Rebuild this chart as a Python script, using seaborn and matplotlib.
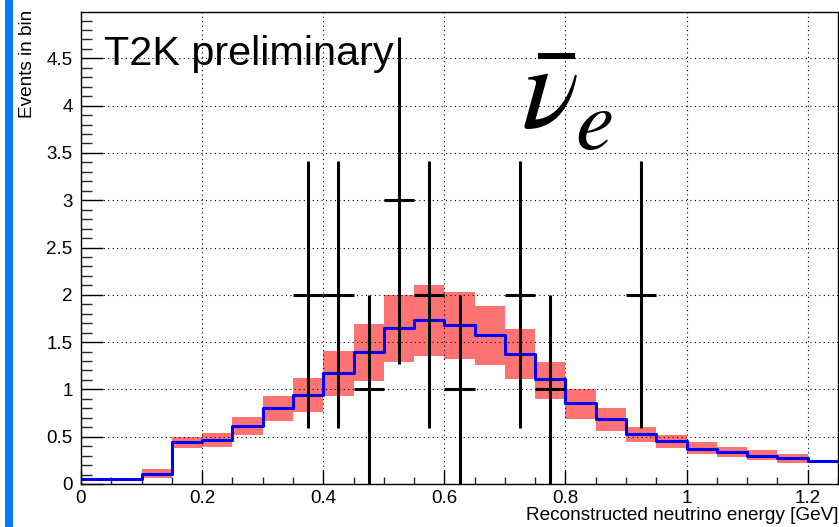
import numpy as np
import pandas as pd
import matplotlib
matplotlib.use("Agg")
import matplotlib.pyplot as plt
from matplotlib.patches import Rectangle
from matplotlib.ticker import MultipleLocator, FuncFormatter
import seaborn as sns

# ---------------- data ----------------
bin_edges = [0.00, 0.05, 0.10, 0.15, 0.20, 0.25, 0.30, 0.35, 0.40, 0.45, 0.50,
             0.55, 0.60, 0.65, 0.70, 0.75, 0.80, 0.85, 0.90, 0.95, 1.00,
             1.05, 1.10, 1.15, 1.20, 1.25]
mc_pred = [0.055, 0.055, 0.106, 0.447, 0.465, 0.616, 0.806, 0.944, 1.169, 1.395,
           1.648, 1.732, 1.680, 1.570, 1.370, 1.106, 0.852, 0.683, 0.530, 0.457,
           0.373, 0.335, 0.296, 0.271, 0.248]
band_lo = [0.045, 0.045, 0.067, 0.384, 0.394, 0.518, 0.669, 0.764, 0.933, 1.090,
           1.290, 1.355, 1.324, 1.260, 1.113, 0.900, 0.690, 0.560, 0.440, 0.384,
           0.320, 0.290, 0.257, 0.225, 0.240]
band_hi = [0.065, 0.065, 0.155, 0.500, 0.542, 0.705, 0.930, 1.120, 1.405, 1.690,
           2.000, 2.100, 2.025, 1.880, 1.637, 1.289, 1.000, 0.800, 0.600, 0.518,
           0.444, 0.390, 0.360, 0.317, 0.258]
data_x = [0.375, 0.425, 0.475, 0.525, 0.575, 0.625, 0.725, 0.775, 0.925]
data_y = [2, 2, 1, 3, 2, 1, 2, 1, 2]
data_err = [1.41, 1.41, 1.00, 1.73, 1.41, 1.00, 1.41, 1.00, 1.41]
x_ticks = [0, 0.2, 0.4, 0.6, 0.8, 1.0, 1.2]
y_ticks = [0, 0.5, 1, 1.5, 2, 2.5, 3, 3.5, 4, 4.5]

edges = np.array(bin_edges)
centers = (edges[:-1] + edges[1:]) / 2
widths = np.diff(edges)
df = pd.DataFrame({"E": centers, "w": mc_pred})

# ---------------- style ----------------
sns.set_theme(style="white")
plt.rcParams["font.family"] = ["Liberation Sans", "DejaVu Sans"]
plt.rcParams["mathtext.fontset"] = "stix"

W, H = 839, 527
fig = plt.figure(figsize=(W / 100, H / 100), dpi=100)
fig.patch.set_facecolor("white")
ax = fig.add_axes([81 / W, (H - 484) / H, 757 / W, 472 / H])

# red uncertainty band
ax.bar(centers, np.array(band_hi) - np.array(band_lo), bottom=band_lo,
       width=widths, align="center", color="#ff7373", linewidth=0, zorder=2)

# blue MC histogram
sns.histplot(data=df, x="E", weights="w", bins=list(bin_edges), element="step",
             fill=False, color="#0000ff", linewidth=2.2, ax=ax, zorder=3)

# black data points with error bars
ax.errorbar(data_x, data_y, yerr=data_err, xerr=0.025, fmt="none",
            ecolor="black", elinewidth=2.2, capsize=0, zorder=4)

ax.set_xlim(0, 1.25)
ax.set_ylim(0, 4.99)
ax.set_xticks(x_ticks)
ax.set_yticks(y_ticks)
ax.xaxis.set_minor_locator(MultipleLocator(0.05))
ax.yaxis.set_minor_locator(MultipleLocator(0.1))
fmt = FuncFormatter(lambda v, p: f"{v:g}")
ax.xaxis.set_major_formatter(fmt)
ax.yaxis.set_major_formatter(fmt)
ax.set_xlabel("")
ax.set_ylabel("")

ax.tick_params(axis="x", which="major", direction="in", length=10, width=1,
               pad=4, labelsize=13.5, colors="black", bottom=True)
ax.tick_params(axis="x", which="minor", direction="in", length=5, width=1,
               bottom=True)
ax.tick_params(axis="y", which="major", direction="in", length=16, width=1,
               pad=6, labelsize=13.5, colors="black", left=True)
ax.tick_params(axis="y", which="minor", direction="in", length=8, width=1,
               left=True)

ax.grid(True, which="major", color="black", linestyle=(0, (1, 3)),
        linewidth=0.8)
ax.set_axisbelow(False)
for s in ax.spines.values():
    s.set_visible(True)
    s.set_color("black")
    s.set_linewidth(1.0)
    s.set_zorder(5)

# texts
fig.text(104 / W, 1 - 65 / H, "T2K preliminary", fontsize=29.8,
         ha="left", va="baseline", color="black")
fig.text(521 / W, 1 - 128 / H, r"$\bar{\nu}$", fontsize=86,
         ha="left", va="baseline", color="black")
fig.text(575 / W, 1 - 149 / H, r"$e$", fontsize=62,
         ha="left", va="baseline", color="black")
fig.text(838 / W, 1 - 516 / H, "Reconstructed neutrino energy [GeV]",
         fontsize=13.7, ha="right", va="center", color="black")
fig.text(27 / W, 1 - 10 / H, "Events in bin", fontsize=13.7, rotation=90,
         ha="center", va="top", color="black")

# slide-side blue bar
fig.patches.append(Rectangle((5 / W, 0), 7.7 / W, 1, transform=fig.transFigure,
                             facecolor="#0a78ff", edgecolor="none"))

fig.savefig("out.png", dpi=100)
